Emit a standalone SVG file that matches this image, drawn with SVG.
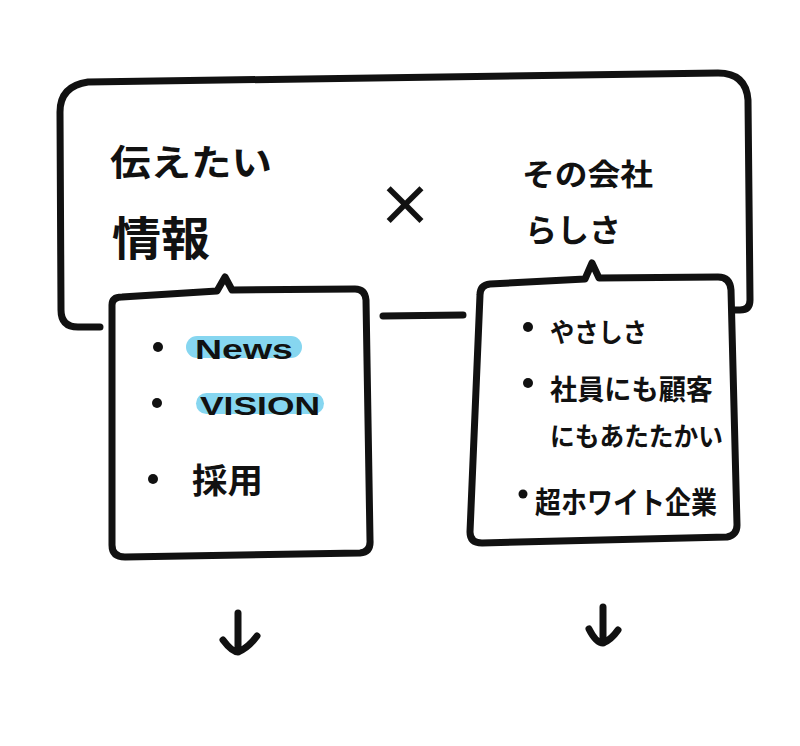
<svg xmlns="http://www.w3.org/2000/svg" width="800" height="746" viewBox="0 0 800 746">
<style>
.ln{fill:none;stroke:#111;stroke-width:7;stroke-linecap:round;stroke-linejoin:round}
.bx{fill:#fff;stroke:#111;stroke-width:7;stroke-linecap:round;stroke-linejoin:round}
.t{font-family:"Noto Sans CJK JP","Noto Sans",sans-serif;fill:#111;font-weight:700}
.e{font-family:"Liberation Sans","Noto Sans",sans-serif;fill:#111;font-weight:bold}
.hl{fill:#86d6f0}
.dot{fill:#111}
</style>
<rect width="800" height="746" fill="#fff"/>
<g id="outer">
<path class="ln" d="M100,327 L78,327 Q61,327 61,310 L60,112 Q60,86 88,82 L718,73 Q746,73 748,100 L750,300 Q750,310 740,310 L733,310"/>
<text class="t" x="110" y="176" font-size="36" textLength="162" lengthAdjust="spacingAndGlyphs">伝えたい</text>
<text class="t" x="112" y="255" font-size="46" textLength="98" lengthAdjust="spacingAndGlyphs">情報</text>
<text class="t" x="522" y="185" font-size="30" textLength="131" lengthAdjust="spacingAndGlyphs">その会社</text>
<text class="t" x="525" y="242" font-size="32" textLength="96" lengthAdjust="spacingAndGlyphs">らしさ</text>
<text class="t" x="405" y="226" font-size="56" text-anchor="middle">×</text>
</g>
<g id="connectors">
<path class="ln" d="M383,316 L463,315"/>
<path class="ln" d="M238,613 L238,652 M223,640 Q232,652 238,652 Q248,648 257,636"/>
<path class="ln" d="M603,607 L603,643 M589,629 Q596,643 603,643 Q611,640 618,630"/>
</g>
<g id="info-box">
<path class="bx" d="M112,305 Q112,297 122,297 L217,291 L225,277 L232,290 L355,289 Q365,289 366,300 L370,540 Q371,552 360,553 L125,557 Q112,557 112,545 Z"/>
<rect class="hl" x="186" y="336" width="116" height="22" rx="11"/>
<rect class="hl" x="196" y="393" width="128" height="21" rx="10.5"/>
<circle class="dot" cx="158" cy="347" r="5"/>
<circle class="dot" cx="157" cy="403" r="5"/>
<circle class="dot" cx="153" cy="479" r="5"/>
<text class="e" x="195" y="359" font-size="27" textLength="98" lengthAdjust="spacingAndGlyphs">News</text>
<text class="e" x="200" y="415" font-size="26" textLength="120" lengthAdjust="spacingAndGlyphs">VISION</text>
<text class="t" x="192" y="493" font-size="34" textLength="71" lengthAdjust="spacingAndGlyphs">採用</text>
</g>
<g id="character-box">
<path class="bx" d="M480,295 Q480,285 490,284 L585,279 L592,263 L599,278 L718,277 Q730,277 731,290 L737,525 Q737,535 727,537 L482,543 Q470,543 470,532 Z"/>
<circle class="dot" cx="528" cy="327" r="5"/>
<circle class="dot" cx="528" cy="383" r="5"/>
<circle class="dot" cx="523" cy="494" r="4.5"/>
<text class="t" x="550" y="342" font-size="26" textLength="97" lengthAdjust="spacingAndGlyphs">やさしさ</text>
<text class="t" x="550" y="400" font-size="28" textLength="163" lengthAdjust="spacingAndGlyphs">社員にも顧客</text>
<text class="t" x="550" y="446" font-size="26" textLength="173" lengthAdjust="spacingAndGlyphs">にもあたたかい</text>
<text class="t" x="535" y="513" font-size="30" textLength="182" lengthAdjust="spacingAndGlyphs">超ホワイト企業</text>
</g>
</svg>
